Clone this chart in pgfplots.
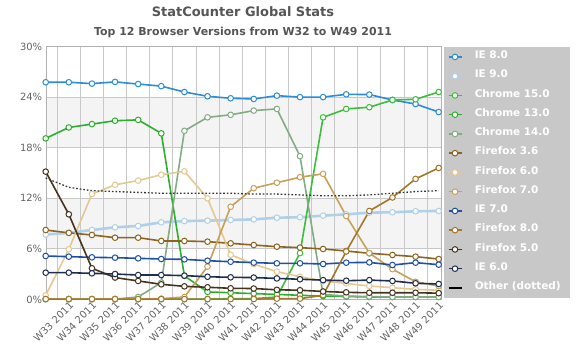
\documentclass[border=0pt]{standalone}
\usepackage{pgfplots}
\usepackage{pgfplotstable}
\pgfplotsset{compat=1.18}
\usepackage{fontspec}
\setmainfont{DejaVu Sans}
\definecolor{ie8}{RGB}{44,140,214}
\definecolor{ie9}{RGB}{175,208,232}
\definecolor{cfifteen}{RGB}{60,190,60}
\definecolor{cthirteen}{RGB}{45,175,45}
\definecolor{cfourteen}{RGB}{130,172,130}
\definecolor{ffthree}{RGB}{140,100,30}
\definecolor{ffsix}{RGB}{228,200,145}
\definecolor{ffseven}{RGB}{200,160,90}
\definecolor{ie7}{RGB}{30,80,170}
\definecolor{ffeight}{RGB}{165,118,40}
\definecolor{fffive}{RGB}{70,50,30}
\definecolor{ie6}{RGB}{30,45,80}
\definecolor{othc}{RGB}{50,50,50}
\definecolor{titlegray}{RGB}{85,85,85}
\definecolor{labelgray}{RGB}{100,100,100}
\definecolor{bandgray}{RGB}{244,244,244}
\definecolor{legendgray}{RGB}{200,200,200}
\definecolor{gridgray}{RGB}{200,200,200}
\pgfplotstableread{
k ie8 ie9 cfifteen cthirteen cfourteen ffthree ffsix ffseven ieseven ffeight fffive iesix oth
0 25.76 7.70 0.05 19.1 0.05 8.24 0.5 0.05 5.16 0.05 15.16 3.18 14.4
1 25.76 7.90 0.05 20.4 0.05 7.90 5.95 0.05 5.08 0.05 10.1 3.18 13.3
2 25.60 8.24 0.05 20.8 0.05 7.65 12.5 0.05 5.00 0.05 3.7 3.10 12.9
3 25.80 8.56 0.05 21.2 0.05 7.33 13.6 0.05 4.96 0.05 2.6 3.02 12.8
4 25.55 8.72 0.05 21.3 0.3 7.33 14.1 0.05 4.88 0.05 2.2 2.90 12.7
5 25.30 9.15 0.05 19.7 2.0 6.94 14.8 0.1 4.80 0.05 1.8 2.90 12.6
6 24.60 9.30 0.05 2.8 20.0 6.94 15.2 0.3 4.76 0.05 1.56 2.83 12.6
7 24.10 9.35 0.05 0.9 21.6 6.86 12.0 3.9 4.60 0.05 1.45 2.70 12.6
8 23.86 9.43 0.1 0.8 21.9 6.66 5.3 11.0 4.48 0.05 1.33 2.63 12.6
9 23.78 9.50 0.1 0.7 22.4 6.46 4.2 13.2 4.37 0.05 1.3 2.60 12.5
10 24.17 9.70 0.3 0.6 22.6 6.26 3.3 13.85 4.29 0.1 1.15 2.50 12.5
11 24.00 9.75 5.5 0.5 17.0 6.15 2.7 14.5 4.29 0.1 1.1 2.40 12.4
12 24.00 9.94 21.6 0.4 0.6 5.99 2.2 14.9 4.21 0.5 0.95 2.30 12.3
13 24.33 10.10 22.6 0.35 0.4 5.75 1.9 9.9 4.37 5.7 0.85 2.23 12.3
14 24.30 10.30 22.8 0.3 0.35 5.48 1.6 5.5 4.40 10.5 0.8 2.30 12.4
15 23.66 10.34 23.66 0.3 0.3 5.28 1.4 3.6 4.09 12.1 0.8 2.20 12.6
16 23.18 10.46 23.74 0.3 0.3 5.08 1.2 2.1 4.37 14.3 0.8 1.92 12.8
17 22.23 10.50 24.6 0.3 0.3 4.80 1.1 1.6 4.13 15.6 0.75 1.84 12.9
}\data
\begin{document}
\begin{tikzpicture}
\begin{axis}[
  set layers,
  at={(45.7bp,51.5bp)}, anchor=south west,
  scale only axis, width=395.3bp, height=253bp,
  xmin=0, xmax=17.1, ymin=0, ymax=30,
  clip=false,
  axis line style={draw=gray!60},
  ytick={0,6,12,18,24,30},
  yticklabels={0\%,6\%,12\%,18\%,24\%,30\%},
  xtick={1,...,17},
  xticklabels={W33 2011,W34 2011,W35 2011,W36 2011,W37 2011,W38 2011,W39 2011,W40 2011,W41 2011,W42 2011,W43 2011,W44 2011,W45 2011,W46 2011,W47 2011,W48 2011,W49 2011},
  minor xtick={0.5,1.5,...,16.5},
  xminorgrids, ymajorgrids,
  major grid style={draw=gridgray, line width=0.8bp},
  minor grid style={draw=gridgray, line width=0.8bp},
  major tick length=0, minor tick length=0,
  y tick label style={font=\fontsize{10}{12}\selectfont, text=labelgray},
  x tick label style={font=\fontsize{10}{12}\selectfont, text=labelgray, rotate=45, anchor=north east, inner sep=1bp},
  every axis plot/.append style={line width=1.6bp, mark=*, mark size=2.8bp, mark options={fill=white, line width=1bp, solid}},
  legend image code/.code={\draw[mark repeat=2,mark phase=2] plot coordinates {(0bp,0bp) (6.5bp,0bp) (13bp,0bp)};},
  legend cell align=left,
  legend style={at={(1,1)}, anchor=north west, xshift=3bp, yshift=-0.6bp,
    fill=legendgray, draw=none, inner xsep=3bp, inner ysep=0bp,
    column sep=9bp, row sep=0bp,
    font=\bfseries\fontsize{10.5}{12}\selectfont, text=white,
    nodes={inner xsep=3bp, inner ysep=0bp, text width=89bp, align=left, text height=11.4bp, text depth=7.85bp}},
]
\begin{pgfonlayer}{axis background}
\fill[bandgray] (axis cs:0,6) rectangle (axis cs:17.1,12);
\fill[bandgray] (axis cs:0,18) rectangle (axis cs:17.1,24);
\end{pgfonlayer}
\addplot[color=ie8] table[x=k,y=ie8]{\data};
\addlegendentry{IE 8.0}
\addplot[color=ie9, line width=2.6bp] table[x=k,y=ie9]{\data};
\addlegendentry{IE 9.0}
\addplot[color=cfifteen] table[x=k,y=cfifteen]{\data};
\addlegendentry{Chrome 15.0}
\addplot[color=cthirteen] table[x=k,y=cthirteen]{\data};
\addlegendentry{Chrome 13.0}
\addplot[color=cfourteen] table[x=k,y=cfourteen]{\data};
\addlegendentry{Chrome 14.0}
\addplot[color=ffthree] table[x=k,y=ffthree]{\data};
\addlegendentry{Firefox 3.6}
\addplot[color=ffsix] table[x=k,y=ffsix]{\data};
\addlegendentry{Firefox 6.0}
\addplot[color=ffseven] table[x=k,y=ffseven]{\data};
\addlegendentry{Firefox 7.0}
\addplot[color=ie7] table[x=k,y=ieseven]{\data};
\addlegendentry{IE 7.0}
\addplot[color=ffeight] table[x=k,y=ffeight]{\data};
\addlegendentry{Firefox 8.0}
\addplot[color=fffive] table[x=k,y=fffive]{\data};
\addlegendentry{Firefox 5.0}
\addplot[color=ie6] table[x=k,y=iesix]{\data};
\addlegendentry{IE 6.0}
\addplot[color=othc, no marks, dotted, line width=1.3bp, legend image code/.code={\draw[solid, line width=2bp, black] (0bp,0bp)--(13bp,0bp);}] table[x=k,y=oth]{\data};
\addlegendentry{Other (dotted)}
\end{axis}
\node[font=\bfseries\fontsize{13}{15}\selectfont, text=titlegray] at (243bp,339bp) {StatCounter Global Stats};
\node[font=\bfseries\fontsize{11}{13}\selectfont, text=titlegray] at (243bp,319bp) {Top 12 Browser Versions from W32 to W49 2011};
\pgfresetboundingbox
\path[use as bounding box] (0bp,0bp) rectangle (580bp,351bp);
\end{tikzpicture}
\end{document}
